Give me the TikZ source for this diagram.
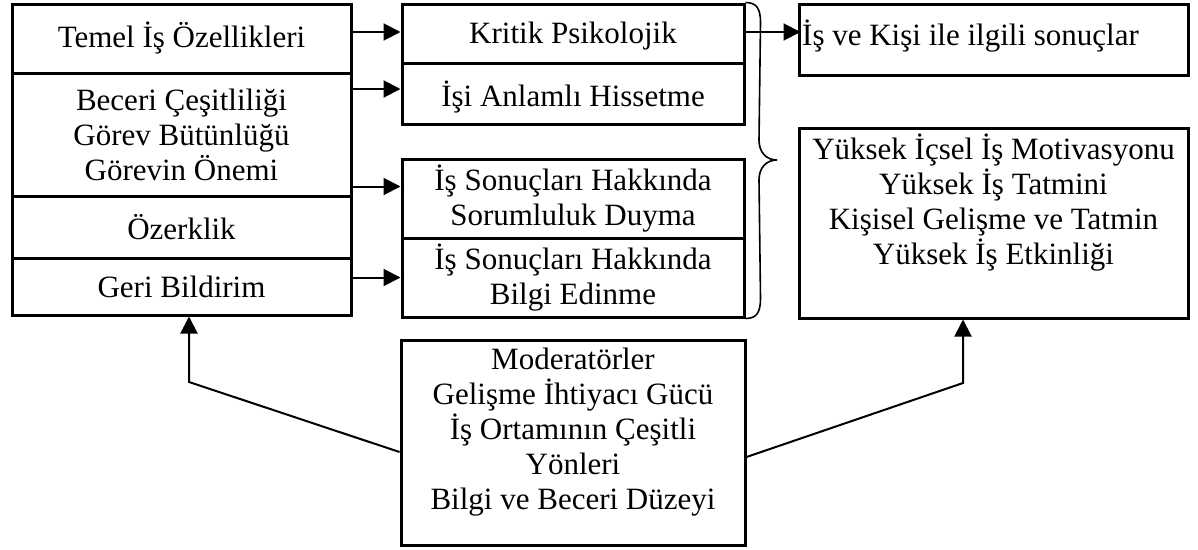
\documentclass[tikz,border=0pt]{standalone}
\usepackage{fontspec}
\setmainfont{Liberation Serif}
\usetikzlibrary{arrows.meta,calc}
\begin{document}
\begin{tikzpicture}[x=1pt,y=-1pt,
  box/.style={draw,line width=3pt,rectangle,inner sep=0pt,align=center,font=\fontsize{31}{35}\selectfont},
  txt/.style={align=center,inner sep=0pt,font=\fontsize{31}{35}\selectfont},
  arr/.style={line width=2pt,-{Triangle[length=17pt,width=17pt]}},
  bracestyle/.style={line width=1.6pt}]
\useasboundingbox (0,0) rectangle (1198,549);
% left column
\node[box,minimum width=339pt,minimum height=69pt] (temel) at (181.5,38.5) {Temel İş Özellikleri};
\node[box,minimum width=339pt,minimum height=123pt] (beceri) at (181.5,134.5) {Beceri Çeşitliliği\\Görev Bütünlüğü\\Görevin Önemi};
\node[box,minimum width=339pt,minimum height=62pt] (oz) at (181.5,227) {Özerklik};
\node[box,minimum width=339pt,minimum height=57pt] (geri) at (181.5,286.5) {Geri Bildirim};
% middle column
\node[box,minimum width=342pt,minimum height=59pt] (kp) at (573,33.5) {};
\node[txt] (kpt) at (573,36) {Kritik Psikolojik};
\node[box,minimum width=342pt,minimum height=61pt] (isi) at (573,93.5) {};
\node[txt] (isit) at (573,97) {İşi Anlamlı Hissetme};
\node[box,minimum width=342pt,minimum height=79pt] (is1) at (573,198.5) {İş Sonuçları Hakkında\\Sorumluluk Duyma};
\node[box,minimum width=342pt,minimum height=79pt] (is2) at (573,277.5) {İş Sonuçları Hakkında\\Bilgi Edinme};
% right column
\node[box,minimum width=389pt,minimum height=71pt] (ik) at (993.5,39.5) {};
\node[txt,anchor=west] (ikt) at (802,36) {İş ve Kişi ile ilgili sonuçlar};
\node[box,minimum width=389pt,minimum height=190pt] (rb) at (993.5,223) {};
\node[txt] (rbt) at (993.5,203) {Yüksek İçsel İş Motivasyonu\\Yüksek İş Tatmini\\Kişisel Gelişme ve Tatmin\\Yüksek İş Etkinliği};
% moderators
\node[box,minimum width=344pt,minimum height=205pt] (mod) at (573,442.5) {};
\node[txt] (modt) at (573,432.5) {Moderatörler\\Gelişme İhtiyacı Gücü\\İş Ortamının Çeşitli\\Yönleri\\Bilgi ve Beceri Düzeyi};
% brace
\draw[bracestyle] (kp.north east) .. controls ($(kp.north east)+(11,0)$) and ($(kp.north east)+(15,6)$) .. ($(kp.north east)+(15,20)$)
  -- (759,140) .. controls (759,152) and (766,160) .. (777,160)
  .. controls (766,160) and (759,168) .. (759,180)
  -- ($(is2.south east)+(15,-20)$) .. controls ($(is2.south east)+(15,-6)$) and ($(is2.south east)+(11,0)$) .. (is2.south east);
% arrows
\draw[arr] ([yshift=1.5pt]kp.west -| temel.east) -- ([yshift=1.5pt]kp.west);
\draw[arr] ([yshift=4.5pt]isi.west -| beceri.east) -- ([yshift=4.5pt]isi.west);
\draw[arr] ([yshift=12pt]is1.west -| oz.east) -- ([yshift=12pt]is1.west);
\draw[arr] (is2.west -| geri.east) -- (is2.west);
\draw[arr,shorten >=-3pt] ([yshift=1.5pt]kp.east) -- ([yshift=1.5pt]kp.east -| ik.west);
\coordinate (lc) at (189,382);
\coordinate (rc) at (963,383);
\draw[arr] ([yshift=-9.5pt]mod.west) -- (lc) -- (lc |- geri.south);
\draw[arr] ([yshift=-14.5pt]mod.east) -- (rc) -- (rc |- rb.south);
\end{tikzpicture}
\end{document}
